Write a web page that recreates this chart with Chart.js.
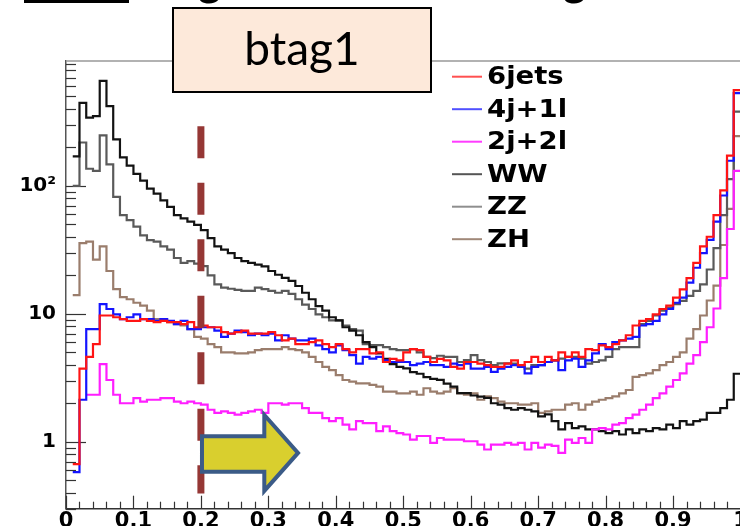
<!DOCTYPE html>
<html>
<head>
<meta charset="utf-8">
<script src="https://cdn.jsdelivr.net/npm/chart.js@4.4.0/dist/chart.umd.min.js"></script>
<style>
  html, body { margin: 0; padding: 0; background: #fff; overflow: hidden; }
  #quadro { position: relative; width: 740px; height: 526px; overflow: hidden; }
  #grafico { position: absolute; left: 0; top: 0; }
</style>
</head>
<body>
<div id="quadro"><canvas id="grafico" width="760" height="560"></canvas></div>
<script>
// btag1: 100 bins entre 0 e 1
var xMin = 0;
var xMax = 1;

var xTickValues = [0, 0.1, 0.2, 0.3, 0.4, 0.5, 0.6, 0.7, 0.8, 0.9, 1];
var xTickLabels = ['0', '0.1', '0.2', '0.3', '0.4', '0.5', '0.6', '0.7', '0.8', '0.9', '1'];
var yTickValues = [1, 10, 100];
var yTickLabels = ['1', '10', '10²'];

var nomes = ['6jets', '4j+1l', '2j+2l', 'WW', 'ZZ', 'ZH'];

var seisJets = [0, 0.67, 3.73, 4.6, 5.8, 9.7, 9.7, 9.4, 9.1, 8.8,
  8.8, 9.1, 8.8, 8.6, 8.8, 8.6, 8.6, 8.3, 8.6, 7.85,
  8.1, 7.85, 7.85, 7.2, 7.0, 7.2, 7.4, 7.0, 7.0, 7.0,
  7.2, 6.8, 6.2, 6.4, 5.8, 5.8, 6.0, 6.2, 5.8, 5.5,
  5.8, 5.3, 5.0, 5.3, 5.3, 4.9, 5.0, 4.2, 4.45, 4.33,
  5.0, 5.3, 5.2, 4.6, 4.2, 4.45, 4.33, 3.85, 3.73, 4.2,
  4.2, 4.08, 3.97, 3.85, 3.85, 4.08, 4.33, 3.97, 4.2, 4.6,
  4.2, 4.6, 4.33, 5.0, 4.6, 5.0, 4.6, 5.3, 5.2, 5.66,
  5.5, 5.8, 6.2, 6.8, 8.1, 8.8, 9.1, 9.9, 10.9, 11.6,
  13.4, 15.5, 19, 25, 33.6, 40, 59, 92, 172, 560];

var quatroJ1L = [0, 0.58, 2.13, 7.6, 7.6, 11.9, 10.9, 9.9, 9.1, 9.4,
  9.9, 9.1, 9.1, 8.8, 9.1, 8.8, 8.3, 8.8, 7.6, 7.6,
  7.85, 7.85, 7.4, 6.6, 7.0, 7.4, 7.2, 6.8, 7.0, 6.8,
  7.0, 6.2, 6.8, 6.4, 6.2, 6.2, 6.4, 5.66, 5.3, 5.0,
  5.66, 5.2, 4.75, 4.08, 4.6, 4.46, 4.6, 4.33, 4.2, 4.2,
  4.2, 3.97, 4.08, 4.2, 3.97, 3.97, 3.85, 4.08, 3.97, 4.08,
  3.73, 3.73, 3.85, 3.52, 3.73, 3.85, 3.97, 3.85, 3.42, 3.85,
  3.97, 4.2, 4.33, 3.63, 4.33, 4.46, 3.85, 4.33, 4.9, 5.8,
  5.3, 6.0, 6.2, 6.4, 6.6, 8.1, 8.3, 8.8, 9.9, 10.9,
  12.2, 13.4, 17.5, 22.9, 29.8, 37.8, 52.5, 84, 157, 530];

var doisJ2L = [0, 0, 0, 2.33, 2.33, 4.04, 3.04, 2.33, 2.0, 2.0,
  2.19, 2.06, 2.13, 2.13, 2.19, 2.19, 2.06, 2.0, 2.06, 2.0,
  1.95, 1.78, 1.68, 1.73, 1.68, 1.63, 1.68, 1.73, 1.78, 1.68,
  2.0, 2.0, 1.95, 2.0, 2.0, 1.83, 1.68, 1.68, 1.53, 1.45,
  1.53, 1.36, 1.25, 1.45, 1.40, 1.40, 1.21, 1.32, 1.21, 1.17,
  1.14, 1.04, 1.11, 1.11, 0.98, 1.07, 1.04, 1.04, 1.04, 1.01,
  1.01, 0.95, 0.87, 0.95, 0.95, 0.98, 0.95, 0.98, 0.87, 0.98,
  0.90, 0.95, 0.93, 0.82, 1.04, 0.98, 1.07, 0.98, 1.25, 1.28,
  1.25, 1.36, 1.40, 1.53, 1.63, 1.78, 1.95, 2.19, 2.39, 2.7,
  3.04, 3.42, 4.08, 4.75, 6.0, 7.85, 11, 19, 46, 131];

var ww = [0, 170, 445, 341, 351, 662, 419, 231, 167, 144,
  124, 110, 95, 87, 77, 68.5, 59, 55.7, 52.5, 49.5,
  45, 39, 33.6, 31.7, 29.8, 27.3, 25.8, 25, 24.2, 23.5,
  21.6, 20.2, 19.1, 18.1, 16.5, 14.6, 13.0, 11.5, 10.6, 9.4,
  8.9, 7.85, 7.4, 6.8, 6.0, 5.5, 4.9, 4.45, 4.05, 3.85,
  3.75, 3.5, 3.4, 3.2, 3.1, 3.05, 2.85, 2.7, 2.4, 2.4,
  2.3, 2.25, 2.2, 2.0, 1.95, 1.83, 1.78, 1.83, 1.78, 1.73,
  1.58, 1.64, 1.45, 1.25, 1.40, 1.28, 1.32, 1.25, 1.25, 1.21,
  1.17, 1.21, 1.14, 1.25, 1.17, 1.25, 1.21, 1.28, 1.25, 1.36,
  1.28, 1.45, 1.36, 1.45, 1.49, 1.68, 1.68, 1.83, 2.13, 3.4];

var zz = [0, 100, 218, 136, 131, 248, 147, 82, 59, 54,
  48, 41, 37.7, 36.7, 33.6, 31.7, 27.3, 25, 25.8, 24.7,
  23.6, 20, 17, 16, 15.7, 15.4, 15.1, 15.1, 16, 15.6,
  15.1, 14.6, 15.1, 14.3, 13, 11.8, 10.9, 9.9, 9.4, 8.9,
  8.9, 8.1, 7.6, 7.4, 5.8, 5.7, 5.7, 5.5, 5.3, 5.2,
  5.2, 5.3, 5.0, 4.6, 4.5, 4.7, 4.6, 4.6, 4.2, 4.35,
  4.75, 4.35, 4.2, 3.97, 4.1, 4.1, 4.08, 3.97, 3.73, 3.97,
  3.97, 4.2, 4.33, 4.46, 4.6, 4.6, 4.46, 4.08, 4.2, 4.33,
  4.6, 5.3, 5.5, 5.5, 5.5, 8.3, 8.8, 9.7, 10.6, 11.2,
  11.9, 12.6, 13.8, 15.1, 17.0, 22.2, 32.6, 59, 113, 380];

var zh = [0, 14, 35.7, 36.6, 26.5, 33.6, 21.6, 15.6, 13.5, 13.0,
  12.2, 11.6, 10.6, 9.1, 8.8, 8.6, 8.3, 8.1, 7.6, 6.6,
  6.4, 5.8, 5.5, 5.0, 5.0, 4.9, 4.9, 5.0, 5.2, 5.3,
  5.3, 5.3, 5.5, 5.3, 5.2, 5.0, 4.6, 4.2, 3.85, 3.63,
  3.32, 3.04, 2.95, 2.86, 2.86, 2.78, 2.7, 2.47, 2.47, 2.39,
  2.39, 2.47, 2.33, 2.62, 2.47, 2.39, 2.47, 2.62, 2.39, 2.33,
  2.39, 2.13, 2.26, 2.19, 2.06, 2.0, 2.0, 1.95, 1.95, 2.0,
  1.68, 1.73, 1.78, 1.78, 1.95, 2.0, 1.78, 1.95, 2.06, 2.13,
  2.19, 2.26, 2.39, 2.54, 3.22, 3.32, 3.42, 3.63, 3.97, 4.2,
  4.6, 5.0, 6.4, 7.6, 9.7, 12.7, 16.6, 34.5, 66, 245];

var cores = ['#ff1414', '#1414ff', '#ff1eff', '#121212', '#5a5a5a', '#9a7d6c'];
var coresLegenda = ['#ff5050', '#5050ff', '#ff3cff', '#555555', '#8e8e8e', '#a08878'];

// corte em btag1 e a seta indicando a regiao selecionada
var corte = 0.2;
var corteTopo = 292;
var corteBase = 0.394;
var seta = [[0.2016, 1.107], [0.294, 1.107], [0.294, 1.62], [0.344, 0.818],
  [0.294, 0.413], [0.294, 0.583], [0.2016, 0.583]];

// transforma os conteudos dos bins em pontos de degrau
function histograma(valores) {
  var pontos = [];
  var largura = (xMax - xMin) / valores.length;
  for (var i = 0; i < valores.length; i++) {
    pontos.push({ x: xMin + i * largura, y: valores[i] });
  }
  pontos.push({ x: xMax, y: valores[valores.length - 1] });
  return pontos;
}

var series = [seisJets, quatroJ1L, doisJ2L, ww, zz, zh];
var datasets = [];
for (var s = 0; s < series.length; s++) {
  datasets.push({
    label: nomes[s],
    data: histograma(series[s]),
    borderColor: cores[s],
    borderWidth: 2.2,
    stepped: true,
    pointRadius: 0,
    fill: false
  });
}

function linha(ctx, x1, y1, x2, y2) {
  ctx.beginPath();
  ctx.moveTo(x1, y1);
  ctx.lineTo(x2, y2);
  ctx.stroke();
}

var moldura = {
  id: 'moldura',
  beforeDatasetsDraw: function (chart) {
    var ctx = chart.ctx;
    var area = chart.chartArea;
    var xa = chart.scales.x;
    var ya = chart.scales.y;
    ctx.save();
    ctx.strokeStyle = '#333';
    ctx.lineWidth = 1.2;
    // marcas do eixo y (log), para dentro
    for (var d = -1; d <= 3; d++) {
      for (var m = 1; m <= 9; m++) {
        var v = m * Math.pow(10, d);
        if (v < ya.min || v > ya.max) continue;
        var py = Math.round(ya.getPixelForValue(v)) + 0.5;
        linha(ctx, area.left, py, area.left + (m === 1 ? 20 : 10), py);
      }
    }
    // marcas do eixo x
    for (var k = 0; k <= 50; k++) {
      var px = Math.round(xa.getPixelForValue(k * 0.02)) + 0.5;
      linha(ctx, px, area.bottom, px, area.bottom - (k % 5 === 0 ? 13 : 7));
    }
    // linha de cima do quadro
    ctx.strokeStyle = '#999';
    ctx.lineWidth = 1.5;
    linha(ctx, area.left, area.top, area.right, area.top);
    ctx.restore();
  },
  afterDatasetsDraw: function (chart) {
    var ctx = chart.ctx;
    var xa = chart.scales.x;
    var ya = chart.scales.y;
    ctx.save();
    // corte tracejado
    ctx.strokeStyle = '#953735';
    ctx.lineWidth = 7;
    ctx.setLineDash([32, 24.5]);
    var xc = xa.getPixelForValue(corte);
    linha(ctx, xc, ya.getPixelForValue(corteTopo), xc, ya.getPixelForValue(corteBase));
    ctx.setLineDash([]);
    // seta
    ctx.beginPath();
    for (var i = 0; i < seta.length; i++) {
      var px = xa.getPixelForValue(seta[i][0]);
      var py = ya.getPixelForValue(seta[i][1]);
      if (i === 0) ctx.moveTo(px, py); else ctx.lineTo(px, py);
    }
    ctx.closePath();
    ctx.fillStyle = '#d9cf2e';
    ctx.fill();
    ctx.lineJoin = 'miter';
    ctx.lineWidth = 4;
    ctx.strokeStyle = '#3b5b87';
    ctx.stroke();
    ctx.restore();
  },
  afterDraw: function (chart) {
    var ctx = chart.ctx;
    ctx.save();
    // restos do titulo cortado no alto
    ctx.fillStyle = '#000';
    ctx.fillRect(24, 0, 105, 3);
    ctx.font = 'bold 44px Lato';
    ctx.textBaseline = 'alphabetic';
    ctx.textAlign = 'left';
    ctx.fillText('g', 198, -4);
    ctx.fillText('g', 563, -4);
    // caixa btag1
    ctx.fillStyle = '#fde9da';
    ctx.fillRect(173, 8, 258, 84);
    ctx.strokeStyle = '#000';
    ctx.lineWidth = 2;
    ctx.strokeRect(173, 8, 258, 84);
    ctx.fillStyle = '#000';
    ctx.font = '46px Lato';
    ctx.textAlign = 'center';
    ctx.fillText('btag1', 302, 65);
    // legenda
    ctx.textAlign = 'left';
    ctx.textBaseline = 'middle';
    ctx.font = 'bold 25px "DejaVu Sans"';
    for (var i = 0; i < nomes.length; i++) {
      var y = 76.7 + i * 32.5;
      ctx.strokeStyle = coresLegenda[i];
      ctx.lineWidth = 2;
      linha(ctx, 452, y, 482, y);
      ctx.save();
      ctx.translate(487, y + 1);
      ctx.scale(1.1, 1);
      ctx.fillStyle = '#000';
      ctx.fillText(nomes[i], 0, 0);
      ctx.restore();
    }
    ctx.restore();
  }
};

var ctx = document.getElementById('grafico').getContext('2d');
var chart = new Chart(ctx, {
  type: 'line',
  data: { datasets: datasets },
  plugins: [moldura],
  options: {
    responsive: false,
    animation: false,
    layout: { padding: { left: 0, top: 61, right: 19.5, bottom: 0 } },
    plugins: { legend: { display: false }, tooltip: { enabled: false } },
    scales: {
      x: {
        type: 'linear',
        min: xMin,
        max: xMax,
        grid: { display: false, drawTicks: false },
        border: { display: true, color: '#333', width: 1.5 },
        afterBuildTicks: function (scale) {
          scale.ticks = xTickValues.map(function (v) { return { value: v }; });
        },
        afterFit: function (scale) { scale.height = 51.3; },
        ticks: {
          autoSkip: false,
          maxRotation: 0,
          padding: 0,
          color: '#000',
          font: { family: 'DejaVu Sans', size: 21, weight: 'bold' },
          callback: function (v, i) { return xTickLabels[i]; }
        }
      },
      y: {
        type: 'logarithmic',
        min: 0.326,
        max: 945,
        grid: { display: false, drawTicks: false },
        border: { display: true, color: '#555', width: 1.5 },
        afterBuildTicks: function (scale) {
          scale.ticks = yTickValues.map(function (v) { return { value: v }; });
        },
        afterFit: function (scale) { scale.width = 66; },
        ticks: {
          autoSkip: false,
          padding: 10,
          color: '#000',
          font: { family: 'DejaVu Sans', size: 20, weight: 'bold' },
          callback: function (v, i) { return yTickLabels[i]; }
        }
      }
    }
  }
});
</script>
</body>
</html>
